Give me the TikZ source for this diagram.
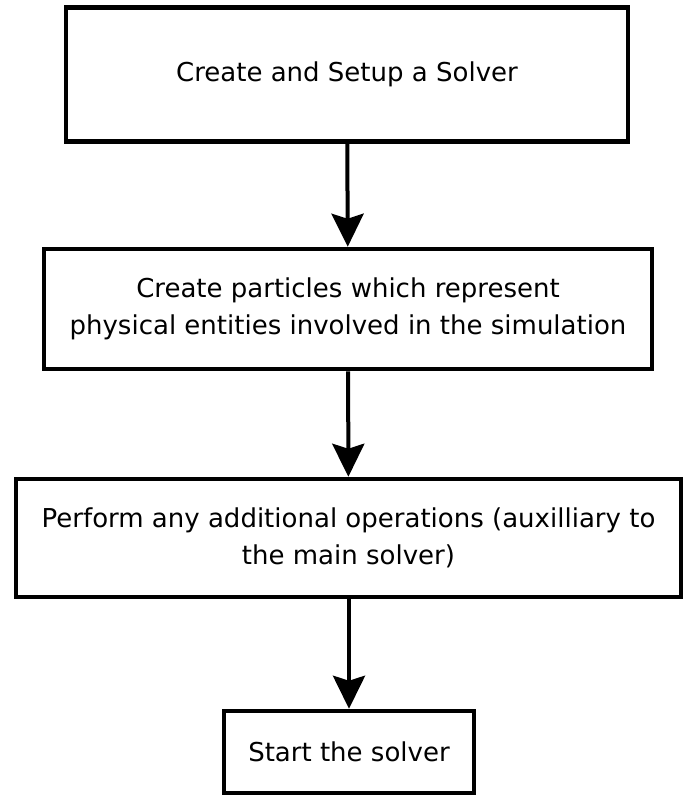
\documentclass[tikz,border=0pt]{standalone}
\usepackage{fontspec}
\setmainfont{DejaVu Sans}
\usetikzlibrary{arrows.meta}

\begin{document}
\begin{tikzpicture}[x=1pt, y=-1pt,
		stepbox/.style={rectangle, draw=black, line width=4.5pt, align=center, inner sep=0pt,
			font=\fontsize{26}{37}\selectfont},
		flow/.style={-{Stealth[length=33pt, width=32pt, inset=5pt]}, line width=4pt}
		]
		\useasboundingbox (0, 0) rectangle (686, 798);
		
		% ---- NODOS ----
		\node[stepbox, minimum width=562pt, minimum height=134pt] (setup) at (347, 74.5)
			{Create and Setup a Solver};
		\node[stepbox, minimum width=608pt, minimum height=120pt] (particles) at (348, 309)
			{Create particles which represent\\physical entities involved in the simulation};
		\node[stepbox, minimum width=665pt, minimum height=118pt] (extra) at (348.5, 538)
			{Perform any additional operations (auxilliary to\\the main solver)};
		\node[stepbox, minimum width=250pt, minimum height=82pt] (start) at (349, 752)
			{Start the solver};
		
		% ---- FLECHAS ----
		\draw[flow] (setup) -- (particles);
		\draw[flow] (particles) -- (extra);
		\draw[flow] (extra.south -| start.north) -- (start);
		
	\end{tikzpicture}
\end{document}
